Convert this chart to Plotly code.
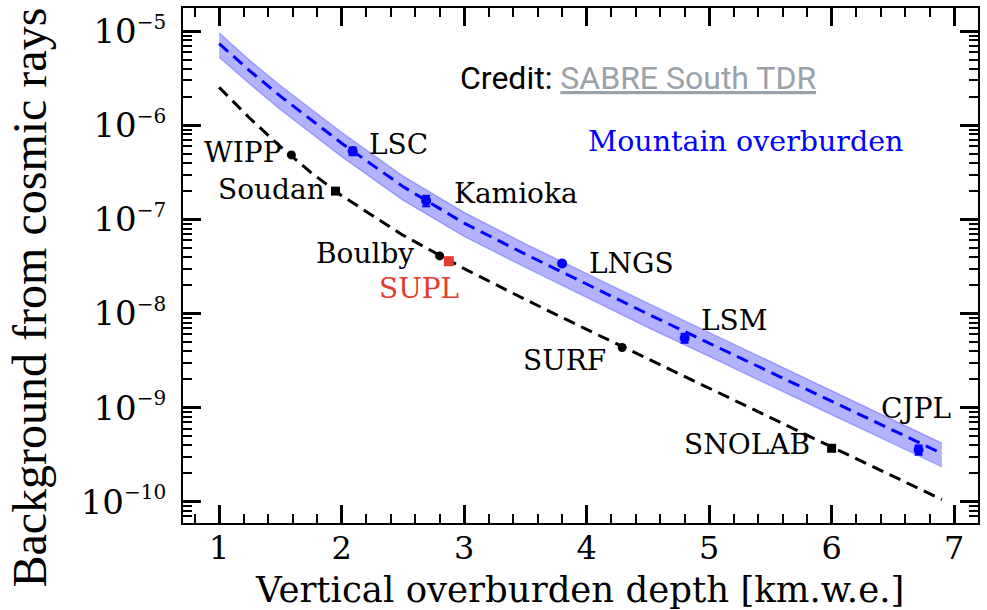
import math
import plotly.graph_objects as go

# ---------------- data ----------------
curve_depth = [1.0, 1.25, 1.5, 1.75, 2.0, 2.5, 3.0, 3.5, 4.0, 4.5, 5.0, 5.5, 6.0, 6.5, 6.9]
flat_curve = [2.53e-6, 1.19e-6, 5.94e-7, 3.15e-7, 1.79e-7, 6.81e-8, 3.0e-8, 1.41e-8,
              6.78e-9, 3.29e-9, 1.605e-9, 7.84e-10, 3.82e-10, 1.87e-10, 1.054e-10]
mountain_curve = [7.4e-6, 3.8e-6, 2.04e-6, 1.15e-6, 6.46e-7, 2.24e-7, 9.12e-8, 4.27e-8,
                  2.04e-8, 9.89e-9, 4.84e-9, 2.37e-9, 1.16e-9, 5.75e-10, 3.26e-10]
mountain_upper = [9.6e-6, 4.9e-6, 2.65e-6, 1.49e-6, 8.4e-7, 2.9e-7, 1.19e-7, 5.5e-8,
                  2.65e-8, 1.29e-8, 6.3e-9, 3.1e-9, 1.5e-9, 7.5e-10, 4.2e-10]
mountain_lower = [5.3e-6, 2.75e-6, 1.47e-6, 8.3e-7, 4.65e-7, 1.6e-7, 6.6e-8, 3.1e-8,
                  1.47e-8, 7.1e-9, 3.5e-9, 1.7e-9, 8.4e-10, 4.15e-10, 2.35e-10]

flat_sites = ["WIPP", "Soudan", "Boulby", "SURF", "SNOLAB"]
flat_depth = [1.59, 1.95, 2.80, 4.29, 6.00]
flat_bkg = [4.85e-7, 2.0e-7, 4.1e-8, 4.35e-9, 3.7e-10]
flat_symbol = ["circle", "square", "circle", "circle", "square"]

supl_site = ["SUPL"]
supl_depth = [2.875]
supl_bkg = [3.6e-8]

mountain_sites = ["LSC", "Kamioka", "LNGS", "LSM", "CJPL"]
mountain_depth = [2.09, 2.69, 3.80, 4.80, 6.71]
mountain_bkg = [5.3e-7, 1.58e-7, 3.4e-8, 5.5e-9, 3.56e-10]
mountain_err = [5e-8, 2.0e-8, 2e-9, 6e-10, 4e-11]

x_ticks = [1, 2, 3, 4, 5, 6, 7]
y_tick_exponents = [-10, -9, -8, -7, -6, -5]

# ---------------- styles ----------------
SERIF = "DejaVu Serif"
BLUE = "#0000ff"
RED = "#e33b2e"
LABEL_SIZE = 28
DASH = "12px,7px"

fig = go.Figure()

# uncertainty band for mountain overburden
fig.add_trace(go.Scatter(x=curve_depth, y=mountain_upper, mode="lines",
                         line=dict(color="rgba(0,0,255,0.25)", width=1.5),
                         hoverinfo="skip", showlegend=False))
fig.add_trace(go.Scatter(x=curve_depth, y=mountain_lower, mode="lines", fill="tonexty",
                         fillcolor="rgba(0,0,255,0.3)",
                         line=dict(color="rgba(0,0,255,0.25)", width=1.5),
                         hoverinfo="skip", showlegend=False))

# curves
fig.add_trace(go.Scatter(x=curve_depth, y=flat_curve, mode="lines",
                         line=dict(color="black", width=3, dash=DASH), showlegend=False))
fig.add_trace(go.Scatter(x=curve_depth, y=mountain_curve, mode="lines",
                         line=dict(color=BLUE, width=3, dash=DASH), showlegend=False))

# site markers
fig.add_trace(go.Scatter(x=flat_depth, y=flat_bkg, mode="markers",
                         marker=dict(color="black", size=9, symbol=flat_symbol),
                         text=flat_sites, showlegend=False))
fig.add_trace(go.Scatter(x=supl_depth, y=supl_bkg, mode="markers",
                         marker=dict(color=RED, size=10, symbol="square"),
                         text=supl_site, showlegend=False))
fig.add_trace(go.Scatter(x=mountain_depth, y=mountain_bkg, mode="markers",
                         marker=dict(color=BLUE, size=10, symbol="circle"),
                         error_y=dict(type="data", array=mountain_err, color=BLUE,
                                      thickness=2, width=4),
                         text=mountain_sites, showlegend=False))

# label offsets (pixels) relative to each site marker
label_style = {
    "WIPP": dict(xanchor="right", xshift=-7, yshift=2),
    "Soudan": dict(xanchor="right", xshift=-9, yshift=2),
    "Boulby": dict(xanchor="right", xshift=-24, yshift=2),
    "SURF": dict(xanchor="right", xshift=-14, yshift=-13),
    "SNOLAB": dict(xanchor="right", xshift=-20, yshift=4),
    "SUPL": dict(xanchor="center", xshift=-30, yshift=-27),
    "LSC": dict(xanchor="left", xshift=14, yshift=7),
    "Kamioka": dict(xanchor="left", xshift=26, yshift=7),
    "LNGS": dict(xanchor="left", xshift=25, yshift=0),
    "LSM": dict(xanchor="left", xshift=14, yshift=17),
    "CJPL": dict(xanchor="center", xshift=-3, yshift=41),
}


def add_labels(names, xs, ys, color):
    for n, x, y in zip(names, xs, ys):
        st = label_style[n]
        fig.add_annotation(x=x, y=math.log10(y), xref="x", yref="y", text=n,
                           showarrow=False, yanchor="middle",
                           font=dict(family=SERIF, size=LABEL_SIZE, color=color), **st)


add_labels(flat_sites, flat_depth, flat_bkg, "black")
add_labels(supl_site, supl_depth, supl_bkg, RED)
add_labels(mountain_sites, mountain_depth, mountain_bkg, "black")

# text annotations
fig.add_annotation(x=0.799, y=0.864, xref="paper", yref="paper", showarrow=False,
                   xanchor="right", yanchor="middle",
                   text="Credit: <span style='color:#9aa1a9'><u>SABRE South TDR</u></span>",
                   font=dict(family="Roboto", size=32, color="black"))
fig.add_annotation(x=0.9085, y=0.740, xref="paper", yref="paper", showarrow=False,
                   xanchor="right", yanchor="middle", text="Mountain overburden",
                   font=dict(family=SERIF, size=28.5, color=BLUE))

# axis titles
fig.add_annotation(x=0.4987, y=-0.13, xref="paper", yref="paper", showarrow=False,
                   xanchor="center", yanchor="middle",
                   text="Vertical overburden depth [km.w.e.]",
                   font=dict(family=SERIF, size=35.5, color="black"))
fig.add_annotation(x=-0.193, y=0.437, xref="paper", yref="paper", showarrow=False,
                   xanchor="center", yanchor="middle", textangle=-90,
                   text="Background from cosmic rays",
                   font=dict(family="Liberation Serif", size=48, color="black"))

fig.update_layout(width=987, height=610, margin=dict(l=183, r=9, t=6, b=87),
                  plot_bgcolor="white", paper_bgcolor="white", showlegend=False,
                  font=dict(family=SERIF, color="black"))

fig.update_xaxes(range=[0.705, 7.195], tickmode="array", tickvals=x_ticks,
                 ticktext=[str(v) for v in x_ticks],
                 ticks="inside", ticklen=18, tickwidth=3, tickcolor="black",
                 showline=True, linecolor="black", linewidth=2, mirror="allticks",
                 showgrid=False, zeroline=False, tickfont=dict(family=SERIF, size=32),
                 ticklabelstandoff=-4, ticklabeloverflow="allow",
                 minor=dict(ticks="inside", ticklen=9, tickwidth=1.5, tickcolor="black",
                            tick0=0, dtick=0.2, showgrid=False))
fig.update_yaxes(type="log", range=[-10.226, -4.753], tickmode="array",
                 tickvals=[10.0 ** e for e in y_tick_exponents],
                 ticktext=["10<sup><span style='font-size:20px'>\u2212%d</span></sup>" % (-e)
                           for e in y_tick_exponents],
                 ticks="inside", ticklen=18, tickwidth=3, tickcolor="black",
                 showline=True, linecolor="black", linewidth=2, mirror="allticks",
                 showgrid=False, zeroline=False, tickfont=dict(family=SERIF, size=34),
                 ticklabelstandoff=8, ticklabeloverflow="allow",
                 minor=dict(ticks="inside", ticklen=9, tickwidth=1.5, tickcolor="black",
                            dtick="D1", showgrid=False))

fig.write_html("out.html")
